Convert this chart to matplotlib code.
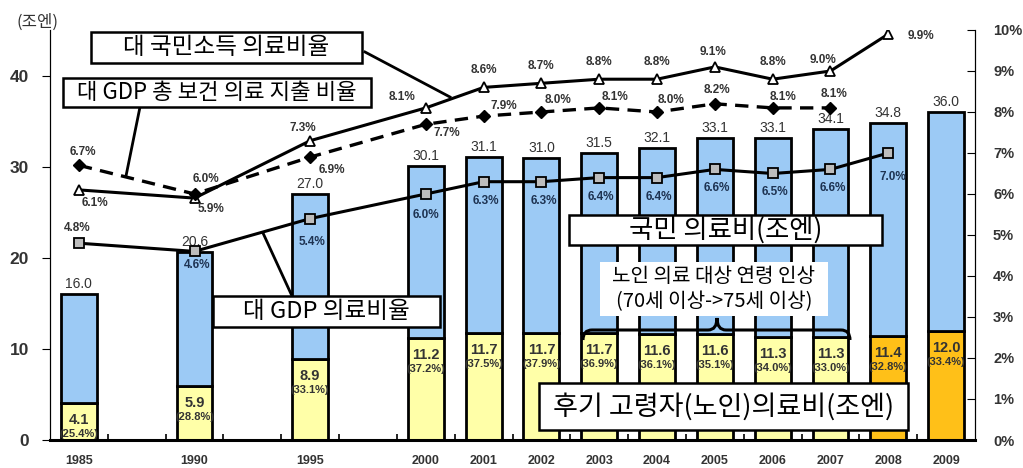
import matplotlib
matplotlib.use("Agg")
import matplotlib.pyplot as plt
import numpy as np
from matplotlib.patches import Rectangle, PathPatch
from matplotlib.path import Path
from matplotlib.lines import Line2D

KR = ["Noto Sans CJK KR", "DejaVu Sans"]
LAT = "Liberation Sans"

# ---------------- data ----------------
years = [1985, 1990, 1995, 2000, 2001, 2002, 2003, 2004, 2005, 2006, 2007, 2008, 2009]
total = [16.0, 20.6, 27.0, 30.1, 31.1, 31.0, 31.5, 32.1, 33.1, 33.1, 34.1, 34.8, 36.0]
elderly = [4.1, 5.9, 8.9, 11.2, 11.7, 11.7, 11.7, 11.6, 11.6, 11.3, 11.3, 11.4, 12.0]
elderly_pct = [25.4, 28.8, 33.1, 37.2, 37.5, 37.9, 36.9, 36.1, 35.1, 34.0, 33.0, 32.8, 33.4]

# ratio to national income (1985-2008)
ni_ratio = [6.1, 5.9, 7.3, 8.1, 8.6, 8.7, 8.8, 8.8, 9.1, 8.8, 9.0, 9.9]
# total health expenditure / GDP (1985-2007)
the_ratio = [6.7, 6.0, 6.9, 7.7, 7.9, 8.0, 8.1, 8.0, 8.2, 8.1, 8.1]
# medical expenditure / GDP (1985-2008)
gdp_ratio = [4.8, 4.6, 5.4, 6.0, 6.3, 6.3, 6.4, 6.4, 6.6, 6.5, 6.6, 7.0]

# label offsets (pixels) for the line value labels
ni_off = [(16, -13), (16, -11), (-7, 13), (-24, 11), (0, 17), (0, 17), (0, 17), (0, 17),
          (-2, 15), (0, 17), (-7, 11), (33, -2)]
the_off = [(4, 13), (11, 15), (22, -13), (21, -9), (20, 10), (17, 12), (16, 11), (14, 12),
           (2, 14), (10, 11), (4, 14)]
gdp_off = [(-2, 15), (3, -14), (2, -23), (0, -21), (2, -19), (2, -19), (2, -19), (2, -19),
           (2, -19), (2, -19), (2, -19), (5, -24)]

pos = np.array([(y - 1985) / 5 * 2 if y <= 2000 else y - 2000 + 6 for y in years])

BLUE = "#9ccaf5"
YELLOW = "#ffffa8"
ORANGE = "#ffc018"
TXT = "#333333"

W, H = 1023, 468
fig = plt.figure(figsize=(W / 100, H / 100), dpi=100)
ax = fig.add_axes([50 / W, 1 - 440 / H, 925 / W, 410 / H])
ax2 = ax.twinx()

# ---------------- bars ----------------
low_colors = [ORANGE if y >= 2008 else YELLOW for y in years]
upper = np.array(total) - np.array(elderly)
ax.bar(pos, elderly, width=0.62, color=low_colors, edgecolor="black", lw=2, zorder=2)
ax.bar(pos, upper, bottom=elderly, width=0.62, color=BLUE, edgecolor="black", lw=2, zorder=2)

for p, t, e, pc in zip(pos, total, elderly, elderly_pct):
    ax.annotate(f"{t:.1f}", (p, t), xytext=(0, 3), textcoords="offset pixels",
                ha="center", va="bottom", fontsize=10, family=LAT, color=TXT)
    ax.annotate(f"{e:.1f}", (p, e), xytext=(0, -17), textcoords="offset pixels",
                ha="center", va="center", fontsize=10.5, family=LAT, weight="bold", color=TXT)
    ax.annotate(f"({pc:.1f}%)", (p, e), xytext=(0, -31), textcoords="offset pixels",
                ha="center", va="center", fontsize=8, family=LAT, weight="bold", color=TXT)

ax.set_xlim(-0.5, 15.5)
ax.set_ylim(0, 45)
ax.set_yticks([0, 10, 20, 30, 40])
ax.set_xticks(pos)
ax.set_xticklabels([str(y) for y in years])
ax.set_xticks(np.arange(0.5, 15, 1), minor=True)
ax.tick_params(axis="x", which="major", length=0, pad=11)
ax.tick_params(axis="x", which="minor", direction="in", length=4, width=1.2)
ax.tick_params(axis="y", length=6, pad=9)
for lab in ax.get_xticklabels():
    lab.set_fontsize(9)
    lab.set_fontweight("bold")
    lab.set_family(LAT)
    lab.set_color(TXT)
for lab in ax.get_yticklabels():
    lab.set_fontsize(12.5)
    lab.set_fontweight("bold")
    lab.set_family(LAT)
    lab.set_color(TXT)

for a in (ax, ax2):
    a.spines["top"].set_visible(False)
ax.spines["bottom"].set_linewidth(2.2)
ax2.spines["bottom"].set_visible(False)

# ---------------- lines ----------------
ax2.set_ylim(0, 10)
ax2.set_yticks(range(0, 11))
ax2.set_yticklabels([f"{i}%" for i in range(0, 11)])
ax2.tick_params(axis="y", direction="in", length=6, pad=13)
for lab in ax2.get_yticklabels():
    lab.set_fontsize(10.5)
    lab.set_fontweight("bold")
    lab.set_family(LAT)
    lab.set_color(TXT)

ax2.plot(pos[:len(ni_ratio)], ni_ratio, color="black", lw=2.2, marker="^", ms=7,
         mfc="white", mec="black", mew=1.3, zorder=4)
ax2.plot(pos[:len(the_ratio)], the_ratio, color="black", lw=2.4, ls=(0, (4, 2.5)),
         marker="D", ms=6.5, mfc="black", mec="black", zorder=4)
ax2.plot(pos[:len(gdp_ratio)], gdp_ratio, color="black", lw=2.2, marker="s", ms=6.5,
         mfc="#bdbdbd", mec="black", mew=1.3, zorder=4)

for vals, offs, col in ((ni_ratio, ni_off, TXT), (the_ratio, the_off, TXT),
                        (gdp_ratio, gdp_off, "#1e3352")):
    for i, (p, v, (dx, dy)) in enumerate(zip(pos, vals, offs)):
        c = TXT if (vals is gdp_ratio and i == 0) else col
        ax2.annotate(f"{v:.1f}%", (p, v), xytext=(dx, dy), textcoords="offset pixels",
                     ha="center", va="center", fontsize=8.5, family=LAT,
                     weight="bold", color=c, zorder=5)


# ---------------- annotations (figure pixel coords) ----------------
def fx(x):
    return x / W


def fy(y):
    return 1 - y / H


def box(x0, y0, x1, y1, text, size, border=True):
    fig.add_artist(Rectangle((fx(x0), fy(y1)), fx(x1) - fx(x0), fy(y0) - fy(y1),
                             transform=fig.transFigure, facecolor="white",
                             edgecolor="black" if border else "none", lw=1.8, zorder=5))
    fig.text(fx((x0 + x1) / 2), fy((y0 + y1) / 2), text, ha="center", va="center",
             fontsize=size, family=KR, zorder=6, linespacing=1.3)


def pointer(x0, y0, x1, y1):
    fig.add_artist(Line2D([fx(x0), fx(x1)], [fy(y0), fy(y1)], transform=fig.transFigure,
                          color="black", lw=2, zorder=4))


pointer(365, 52, 450, 97)
pointer(140, 107, 126, 176)
pointer(292, 296, 263, 233)

box(91, 32, 362, 63, "대 국민소득 의료비율", 17)
box(63, 78, 371, 107, "대 GDP 총 보건 의료 지출 비율", 16)
box(569, 215, 882, 245, "국민 의료비(조엔)", 19)
box(213, 296, 440, 327, "대 GDP 의료비율", 17)
box(600, 262, 828, 316, "노인 의료 대상 연령 인상\n(70세 이상->75세 이상)", 14.5, border=False)
box(539, 383, 908, 430, "후기 고령자(노인)의료비(조엔)", 19.5)

# curly brace
L, R, M = 583, 850, 717
yh, ye, yp, r = 330, 340, 318, 9
verts = [(L, ye), (L, yh), (L + r, yh), (M - r, yh), (M, yh), (M, yp),
         (M, yh), (M + r, yh), (R - r, yh), (R, yh), (R, ye)]
codes = [Path.MOVETO, Path.CURVE3, Path.CURVE3, Path.LINETO, Path.CURVE3, Path.CURVE3,
         Path.CURVE3, Path.CURVE3, Path.LINETO, Path.CURVE3, Path.CURVE3]
brace = Path([(fx(x), fy(y)) for x, y in verts], codes)
fig.add_artist(PathPatch(brace, transform=fig.transFigure, facecolor="none",
                         edgecolor="black", lw=2.2, zorder=4))

fig.text(fx(37), fy(22), "(조엔)", ha="center", va="center", fontsize=12,
         family=KR, color=TXT)

fig.savefig("out.png", dpi=100)
